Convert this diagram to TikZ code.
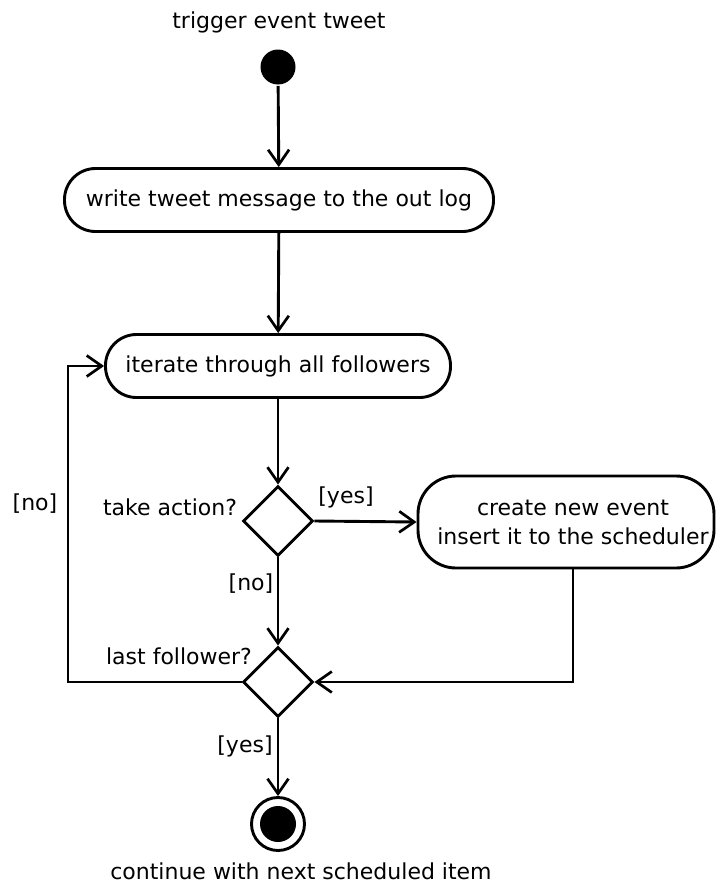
\documentclass[tikz,border=0pt]{standalone}
\usepackage{fontspec}
\setmainfont{DejaVu Sans}
\usetikzlibrary{arrows.meta,shapes.geometric}

\begin{document}
\begin{tikzpicture}[x=1pt,y=-1pt,line width=2.9pt,
  every node/.style={font=\fontsize{22}{29}\selectfont},
  act/.style={draw,rounded corners=31pt,align=center,inner sep=0pt},
  decision/.style={draw,diamond,aspect=1,minimum width=70pt,minimum height=70pt,inner sep=0pt},
  flow/.style={-{Straight Barb[length=15pt,width=21pt,line width=2.7pt]}},
  lbl/.style={inner sep=0pt}]
  \useasboundingbox (0,0) rectangle (717,886);

  % nodes
  \node[lbl] (title) at (279,22) {trigger event tweet};
  \node[circle,fill,inner sep=0pt,minimum size=35pt] (start) at (278,67) {};
  \node[act,minimum width=429pt,minimum height=63pt] (write) at (279,200)
    {write tweet message to the out log};
  \node[act,minimum width=345pt,minimum height=63pt] (iter) at (278,366)
    {iterate through all followers};
  \node[decision] (take) at (278,521) {};
  \node[act,rounded corners=38pt,minimum width=296pt,minimum height=92pt] (create) at (566,522)
    {\hspace*{14pt}create new event\\\hspace*{14pt}insert it to the scheduler};
  \node[decision] (last) at (278,682) {};
  \node[circle,draw,minimum size=53pt,inner sep=0pt] (final) at (278,824) {};
  \fill (final.center) circle (18pt);
  \node[lbl] (cont) at (301,871) {continue with next scheduled item};

  % guard and decision labels
  \node[lbl] (qtake) at (170,507) {take action?};
  \node[lbl] (qlast) at (179,656) {last follower?};
  \node[lbl] (gyes1) at (346,497) {[yes]};
  \node[lbl] (gno1) at (251,584) {[no]};
  \node[lbl] (gno2) at (35,504) {[no]};
  \node[lbl] (gyes2) at (245,746) {[yes]};

  \coordinate (back) at (68,682);
  \coordinate (down) at (573,682);

  % connectors
  \draw[flow] (start) -- (write);
  \draw[flow] (write) -- (iter);
  \draw[flow] (iter) -- (take);
  \draw[flow] (take.east) -- (create.west);
  \draw[flow] (take) -- (last);
  \draw[flow] (create.south -| down) -- (down) -- (last.east);
  \draw[flow] (last.west) -- (back) |- (iter.west);
  \draw[flow] (last) -- (final);
\end{tikzpicture}
\end{document}
